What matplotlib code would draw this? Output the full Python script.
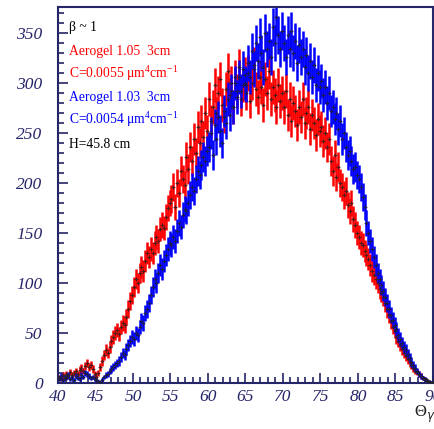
import numpy as np
import matplotlib
matplotlib.use("Agg")
import matplotlib.pyplot as plt
from matplotlib.ticker import MultipleLocator

# bin layout (0.25 wide bins from 40 to 90)
bin_lo = 40.0
bin_w = 0.25

# Aerogel n=1.05, 3 cm (red)
red_counts = [
    6, 4, 8, 5, 9, 7, 11, 8, 10, 12, 9, 13, 15, 12, 17, 20, 16, 18, 14, 9,
    6, 10, 16, 22, 28, 33, 30, 36, 42, 46, 50, 53, 49, 56, 60, 58, 66, 74, 82, 88,
    96, 104, 100, 110, 116, 112, 122, 130, 126, 134, 130, 140, 146, 142, 154, 158, 155, 166, 175, 180,
    184, 196, 176, 200, 190, 212, 204, 198, 226, 214, 236, 222, 244, 230, 256, 240, 262, 246, 270, 252,
    284, 262, 276, 298, 270, 290, 304, 278, 266, 294, 312, 288, 300, 276, 306, 292, 316, 284, 298, 308,
    290, 310, 282, 300, 318, 294, 286, 306, 296, 278, 304, 290, 312, 284, 296, 288, 276, 298, 282, 290,
    276, 292, 268, 284, 262, 280, 272, 258, 276, 266, 284, 260, 270, 276, 254, 268, 260, 248, 264, 252,
    256, 242, 250, 236, 244, 222, 212, 228, 206, 216, 200, 196, 188, 192, 178, 172, 180, 164, 158, 150,
    146, 140, 138, 132, 128, 124, 118, 112, 108, 104, 100, 94, 90, 86, 80, 74, 68, 62, 56, 52,
    46, 42, 38, 34, 30, 27, 24, 21, 18, 15, 12, 11, 9, 7, 5, 4, 3, 2, 1, 1,
]

# Aerogel n=1.03, 3 cm (blue)
blue_counts = [
    4, 7, 3, 6, 5, 8, 4, 6, 3, 7, 5, 4, 8, 6, 10, 9, 7, 5, 6, 4,
    3, 2, 1, 3, 6, 8, 9, 12, 14, 16, 18, 20, 22, 26, 30, 28, 34, 38, 42, 46,
    44, 50, 48, 56, 62, 60, 70, 74, 80, 88, 96, 104, 100, 110, 118, 114, 122, 128, 134, 140,
    138, 146, 142, 152, 160, 156, 168, 174, 172, 180, 188, 196, 192, 204, 212, 208, 218, 226, 222, 232,
    236, 250, 228, 258, 244, 266, 252, 240, 272, 260, 284, 268, 292, 276, 300, 286, 306, 292, 314, 300,
    298, 320, 306, 332, 314, 340, 322, 346, 330, 316, 350, 334, 342, 326, 356, 340, 366, 348, 334, 352,
    340, 326, 348, 334, 352, 330, 342, 320, 338, 326, 334, 316, 328, 310, 322, 306, 318, 298, 310, 296,
    302, 288, 296, 280, 290, 272, 276, 264, 270, 254, 262, 244, 250, 236, 228, 232, 222, 214, 216, 208,
    204, 196, 186, 176, 160, 150, 142, 134, 126, 118, 110, 104, 98, 92, 86, 80, 74, 68, 63, 58,
    54, 48, 44, 40, 36, 33, 29, 25, 21, 18, 15, 12, 9, 7, 5, 4, 3, 2, 1, 1,
]

legend_lines = [
    ("β ~ 1", "black"),
    ("Aerogel 1.05  3cm", "#ff0000"),
    ("C=0.0055 μm$^{4}$cm$^{-1}$", "#ff0000"),
    ("Aerogel 1.03  3cm", "#0000ff"),
    ("C=0.0054 μm$^{4}$cm$^{-1}$", "#0000ff"),
    ("H=45.8 cm", "black"),
]

plt.rcParams['font.family'] = ['Liberation Serif', 'DejaVu Serif']
plt.rcParams['mathtext.fontset'] = 'custom'
plt.rcParams['mathtext.rm'] = 'Liberation Serif'

navy = "#25256a"

fig = plt.figure(figsize=(4.35, 4.29), dpi=100)
ax = fig.add_axes([58/435, 46/429, (433-58)/435, (383-7)/429])

def draw(counts, color):
    y = np.array(counts, dtype=float)
    x = bin_lo + bin_w * (np.arange(len(y)) + 0.5)
    err = np.sqrt(y)
    ax.errorbar(x, y, yerr=err, xerr=bin_w/2, fmt='none', ecolor=color,
                elinewidth=1.8, capsize=0, zorder=2)
    ax.plot(x, y, linestyle='none', marker='+', markersize=3.5,
            markeredgewidth=0.8, color='#222222', alpha=0.8, zorder=3)

draw(red_counts, "#ff0000")
draw(blue_counts, "#0000ff")

ax.set_xlim(40, 90)
ax.set_ylim(0, 376)

ax.xaxis.set_major_locator(MultipleLocator(5))
ax.xaxis.set_minor_locator(MultipleLocator(1))
ax.yaxis.set_major_locator(MultipleLocator(50))
ax.yaxis.set_minor_locator(MultipleLocator(10))
ax.tick_params(which='both', direction='in', top=False, right=False, color=navy,
               width=1.2)
ax.tick_params(which='major', length=7, labelsize=12.5, labelcolor=navy)
ax.tick_params(axis='y', which='major', pad=11)
ax.tick_params(axis='x', which='major', pad=4)
ax.tick_params(which='minor', length=4)
for lab in ax.get_xticklabels() + ax.get_yticklabels():
    lab.set_fontstyle('italic')
for sp in ax.spines.values():
    sp.set_color(navy)
    sp.set_linewidth(1.5)

# annotation block
ys = [27, 51, 73, 97, 119, 144]
for (txt, col), yp in zip(legend_lines, ys):
    fig.text(69/435, 1 - yp/429, txt, color=col, fontsize=9.8, va='center', ha='left')

fig.text(425/435, 1 - 414/429, "Θ$_{γ}$", fontsize=12, ha='center', va='center',
         color='#222222')

fig.savefig("out.png", dpi=100)
